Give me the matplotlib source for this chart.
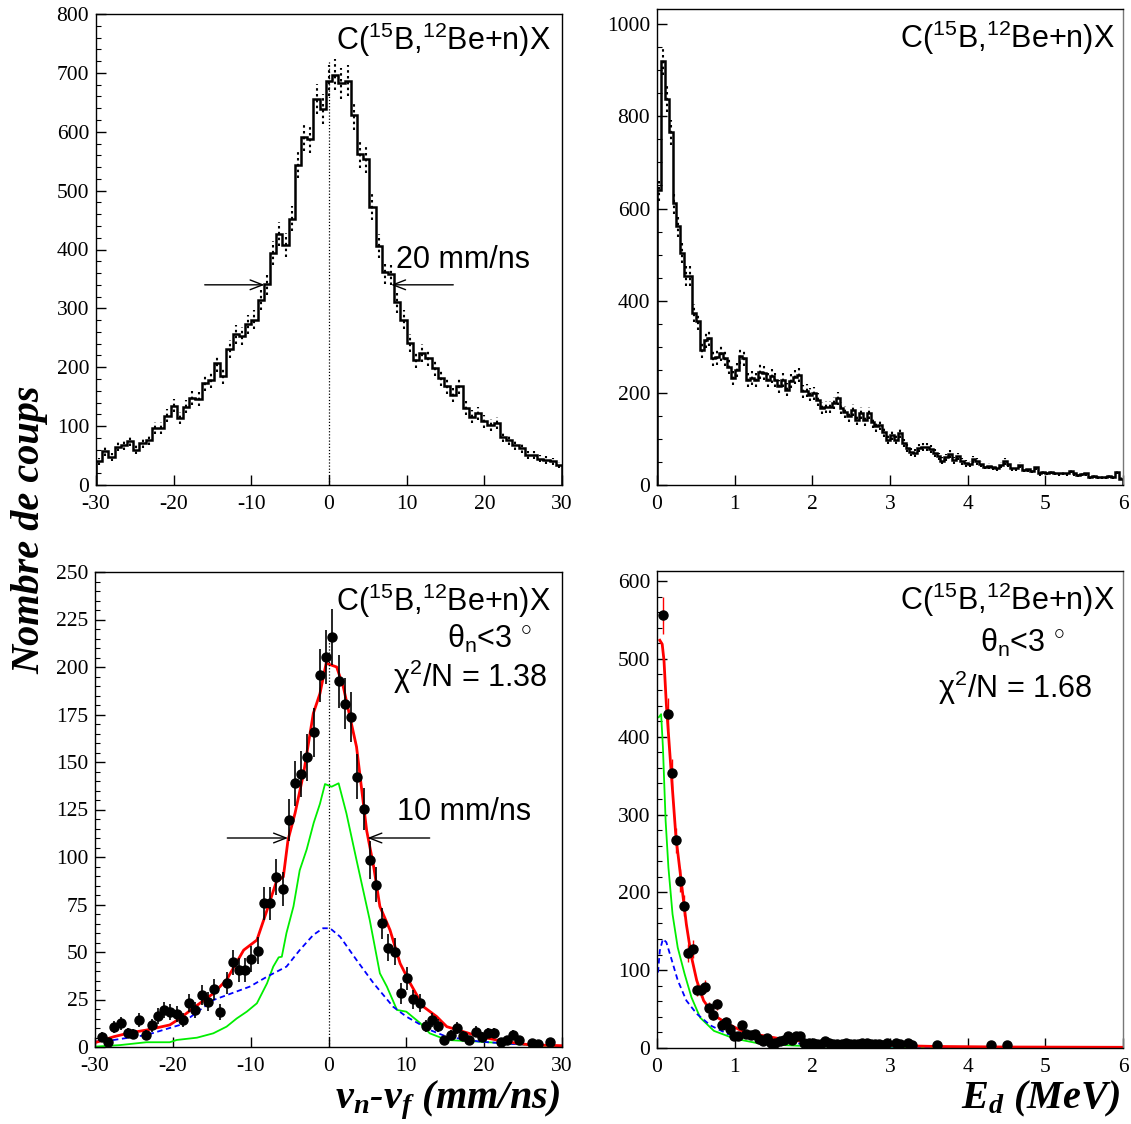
import numpy as np
import matplotlib
matplotlib.use("Agg")
import matplotlib.pyplot as plt
from matplotlib.ticker import MultipleLocator

plt.rcParams.update({
    "font.family": ["Liberation Sans", "DejaVu Sans"],
    "axes.unicode_minus": False,
    "mathtext.fontset": "custom",
    "mathtext.rm": "Liberation Sans",
    "mathtext.it": "Liberation Sans:italic",
    "mathtext.bf": "Liberation Sans:bold",
    "mathtext.bfit": "Liberation Serif:italic:bold",
    "mathtext.default": "rm",
})

# ---------------- data ----------------
# top-left: v_n - v_f histogram (75 bins of 0.8 mm/ns from -30 to 30)
vel_edges_lo, vel_edges_hi, vel_nbins = -30.0, 30.0, 75
vel_counts = [40, 57, 48, 65, 68, 75, 60, 71, 77, 97, 97, 118, 135, 114, 133,
              148, 146, 173, 178, 207, 185, 231, 256, 253, 273, 281, 315, 341,
              394, 426, 408, 452, 544, 591, 588, 655, 639, 687, 697, 682, 687,
              628, 562, 554, 472, 406, 361, 358, 310, 281, 241, 213, 224, 216,
              199, 182, 168, 153, 168, 131, 116, 122, 108, 102, 105, 82, 77, 68,
              62, 51, 51, 45, 43, 40, 34]

# top-right: E_d histogram (120 bins of 0.05 MeV from 0 to 6)
ed_edges_lo, ed_edges_hi, ed_nbins = 0.0, 6.0, 120
ed_counts = [641, 920, 838, 765, 612, 562, 504, 454, 454, 373, 355, 293, 315, 319,
             275, 277, 286, 275, 257, 232, 250, 279, 275, 228, 232, 228, 246, 243,
             228, 237, 228, 214, 228, 207, 225, 235, 239, 203, 205, 196, 199, 185,
             167, 169, 170, 178, 188, 167, 159, 149, 163, 141, 156, 140, 156, 136,
             127, 130, 116, 98, 109, 98, 112, 91, 80, 72, 69, 80, 82, 83, 78, 69,
             62, 53, 60, 67, 54, 62, 51, 47, 46, 56, 51, 46, 40, 41, 38, 36, 43,
             51, 46, 36, 36, 43, 33, 34, 31, 38, 25, 29, 27, 29, 27, 25, 27, 25,
             31, 25, 22, 24, 25, 18, 20, 17, 18, 17, 20, 17, 29, 14]

# bottom-left: data points and fit components
bl_x = [-29.1, -28.3, -27.5, -26.7, -25.8, -25.1, -24.3, -23.5, -22.7, -21.9,
        -21.1, -20.3, -19.5, -18.7, -17.9, -17.1, -16.3, -15.5, -14.7, -13.9,
        -13.1, -12.3, -11.5, -10.7, -9.9, -9.1, -8.3, -7.5, -6.7, -5.9, -5.1,
        -4.3, -3.5, -2.7, -1.9, -1.1, -0.3, 0.5, 1.3, 2.1, 2.9, 3.7, 4.5, 5.3,
        6.1, 6.9, 7.7, 8.5, 9.3, 10.1, 10.9, 11.7, 12.5, 13.3, 14.1, 14.9, 15.7,
        16.5, 17.3, 18.1, 18.9, 19.7, 20.5, 21.3, 22.1, 22.9, 23.7, 24.5, 26.1,
        26.9, 28.5]
bl_y = [5.4, 2.8, 10.4, 12.5, 7.5, 6.8, 14.2, 6.5, 11.4, 16.3, 19.5, 18.4, 17.4,
        14.2, 23.3, 19.5, 27.4, 23.9, 30.4, 18.4, 33.5, 44.6, 40.5, 40.5, 46.5,
        50.7, 75.6, 75.6, 89.6, 83.2, 119.5, 138.8, 143.7, 152.5, 165.6, 195.6,
        205.4, 215.6, 192.5, 180.7, 173.9, 142.3, 125.3, 98.4, 85.3, 65.1, 52.3,
        50.2, 28.2, 36.1, 25.1, 23.0, 11.1, 14.2, 11.2, 3.7, 6.3, 10.2, 5.8, 3.7,
        8.1, 5.4, 7.2, 7.2, 2.8, 3.7, 6.3, 3.7, 2.3, 1.6, 2.5]
bl_red_x = [-30, -27.6, -25.5, -23.4, -20.4, -19.1, -17.4, -14.8, -13.1, -10.9,
            -9.2, -7.9, -6.7, -5.8, -5.2, -4.3, -3.2, -1.95, -1.1, -0.3, 1.05,
            1.9, 3.6, 4.9, 5.8, 6.6, 7.9, 9.2, 10.5, 12.2, 13.9, 15.2, 17.3,
            19.5, 21.6, 23.7, 25.9, 30]
bl_red_y = [2.3, 5.4, 7.5, 8.9, 11.6, 15, 20.4, 28.2, 35.3, 51, 56.3, 72, 87,
            89.6, 109, 123, 144, 175.6, 186, 202, 200, 189.6, 158, 114, 95, 74,
            61.6, 44, 33.5, 21.2, 16, 10.7, 8.1, 5.4, 3.7, 2.3, 1.1, 0.7]
bl_green_x = [-30, -26.8, -23.4, -20.4, -19.5, -16.9, -14.8, -13.1, -11.8, -10.5,
              -9.2, -7.9, -7.1, -6.4, -6.0, -5.4, -4.5, -3.7, -2.8, -1.9, -1.1,
              -0.45, 0.4, 1.3, 2.3, 3.6, 5.3, 6.6, 7.5, 8.8, 10.0, 11.8, 13.0,
              15.2, 19.5, 23.7, 30]
bl_green_y = [0.2, 1, 2.5, 2.5, 3.7, 4.9, 7.2, 10.7, 15, 18.6, 23, 33.5, 42.3,
              47.2, 47.5, 60, 74, 93, 104, 118, 128, 138.4, 137, 138.8, 123,
              98.4, 66.8, 38.8, 31.8, 19.5, 18.6, 12.5, 7.2, 3.7, 2.8, 1.6, 0.2]
bl_blue_x = [-30, -27.6, -23.4, -19.1, -14.8, -10.1, -7.9, -5.4, -3.7, -1.95,
             -0.7, 0.2, 1.5, 3.6, 5.8, 8.3, 10.0, 13.0, 15.2, 19.5, 23.7, 30]
bl_blue_y = [2.8, 3.7, 6.3, 11.6, 24.7, 31.8, 37, 42.3, 51, 59, 62.5, 62.5, 58,
             45.8, 33.5, 21.2, 16, 9, 5.4, 2.8, 1.6, 0.5]

# bottom-right: data points and fit components
br_x = [0.076, 0.138, 0.19, 0.244, 0.298, 0.351, 0.404, 0.458, 0.511, 0.564,
        0.618, 0.671, 0.724, 0.778, 0.831, 0.884, 0.938, 0.991, 1.044, 1.098,
        1.151, 1.204, 1.258, 1.311, 1.364, 1.418, 1.471, 1.524, 1.578, 1.631,
        1.684, 1.738, 1.791, 1.844, 1.898, 1.951, 2.004, 2.058, 2.111, 2.164,
        2.218, 2.271, 2.324, 2.378, 2.431, 2.484, 2.538, 2.591, 2.644, 2.698,
        2.751, 2.804, 2.858, 2.911, 2.964, 3.071, 3.124, 3.231, 3.284, 3.604,
        4.298, 4.511]
br_y = [556, 429, 353, 267, 215, 183, 122, 127, 75, 74, 79, 52, 43, 56, 30, 34,
        24, 15, 15, 29, 18, 17, 18, 12, 9, 13, 7, 7, 9, 10, 16, 10, 15, 16, 7,
        6, 6, 5, 5, 9, 7, 5, 5, 5, 7, 5, 5, 5, 7, 6, 5, 5, 5, 4, 6, 6, 5, 6, 4,
        4, 4, 4]
br_red_x = [0.036, 0.067, 0.09, 0.12, 0.178, 0.244, 0.311, 0.378, 0.444, 0.511,
            0.6, 0.733, 0.911, 1.133, 1.356, 1.578, 2.022, 2.689, 3.578, 4.467, 6.0]
br_red_y = [524, 519, 498, 442, 361, 271, 215, 159, 117, 87, 61, 42, 31, 20, 16,
            12, 7, 4, 2, 1.3, 0.9]
br_green_x = [0.022, 0.053, 0.076, 0.111, 0.147, 0.2, 0.267, 0.356, 0.444, 0.556,
              0.733, 1.0, 1.356, 1.8, 2.69, 6.0]
br_green_y = [425, 429, 387, 292, 232, 172, 129, 95, 65, 39, 22, 12, 5, 3, 1, 0]
br_blue_x = [0.013, 0.036, 0.076, 0.12, 0.178, 0.267, 0.378, 0.511, 0.689, 0.911,
             1.133, 1.356, 1.8, 2.24, 2.91, 3.58, 6.0]
br_blue_y = [97, 125, 140, 136, 117, 87, 61, 44, 29, 18, 15, 10, 6, 4, 2, 1.3, 0.4]

reaction = r'C($^{15}$B,$^{12}$Be+n)X'

# ---------------- figure ----------------
W, H = 1131, 1124
fig = plt.figure(figsize=(W / 100, H / 100), dpi=100)

def px_axes(l, r, t, b):
    return fig.add_axes([l / W, 1 - b / H, (r - l) / W, (b - t) / H])

ax1 = px_axes(96, 562, 14, 485)
ax2 = px_axes(657, 1123, 9, 485)
ax3 = px_axes(95, 562, 572, 1047)
ax4 = px_axes(657, 1123, 571, 1048)

tickfont = dict(family="Liberation Serif", size=15.5)
txt_kw = dict(fontsize=22, family="Liberation Sans")

def style(ax, xmaj, ymaj, ymin):
    ax.xaxis.set_major_locator(MultipleLocator(xmaj))
    ax.yaxis.set_major_locator(MultipleLocator(ymaj))
    ax.yaxis.set_minor_locator(MultipleLocator(ymin))
    ax.tick_params(which="both", direction="in", top=False, right=False)
    ax.tick_params(which="major", length=7, width=1)
    ax.tick_params(axis="x", which="major", pad=7)
    ax.tick_params(axis="y", which="major", pad=5)
    ax.tick_params(which="minor", length=3.5, width=0.8)
    for lab in ax.get_xticklabels() + ax.get_yticklabels():
        lab.set_fontfamily(tickfont["family"])
        lab.set_fontsize(tickfont["size"])
    for s in ax.spines.values():
        s.set_linewidth(1.0)

# ---- top-left ----
edges = np.linspace(vel_edges_lo, vel_edges_hi, vel_nbins + 1)
cent = 0.5 * (edges[:-1] + edges[1:])
vc = np.array(vel_counts, float)
ax1.stairs(vc, edges, color="k", lw=1.8)
ax1.vlines(cent, vc - np.sqrt(vc), vc + np.sqrt(vc), colors="k",
           linestyles=(0, (1.2, 1.6)), lw=1.5)
ax1.plot([0, 0], [0, 720], color="k", ls=(0, (1, 1.5)), lw=0.9)
arr = dict(arrowstyle="->,head_length=0.9,head_width=0.35", lw=1.0, color="k",
           shrinkA=0, shrinkB=0)
ax1.annotate("", xy=(-8.3, 340), xytext=(-16, 340), arrowprops=arr)
ax1.annotate("", xy=(8.0, 340), xytext=(16, 340), arrowprops=arr)
ax1.text(8.6, 368, "20 mm/ns", ha="left", va="baseline", **txt_kw)
ax1.text(0.976, 0.924, reaction, transform=ax1.transAxes, ha="right",
         va="baseline", **txt_kw)
ax1.set_xlim(-30, 30)
ax1.set_ylim(0, 800)
style(ax1, 10, 100, 20)

# ---- top-right ----
edges2 = np.linspace(ed_edges_lo, ed_edges_hi, ed_nbins + 1)
cent2 = 0.5 * (edges2[:-1] + edges2[1:])
ec = np.array(ed_counts, float)
ax2.stairs(ec, edges2, color="k", lw=1.8)
ax2.vlines(cent2, ec - np.sqrt(ec), ec + np.sqrt(ec), colors="k",
           linestyles=(0, (1.2, 1.6)), lw=1.5)
ax2.text(0.983, 0.918, reaction, transform=ax2.transAxes, ha="right",
         va="baseline", **txt_kw)
ax2.set_xlim(0, 6)
ax2.set_ylim(0, 1033)
style(ax2, 1, 200, 50)

# ---- bottom-left ----
by = np.array(bl_y)
ax3.plot(bl_green_x, bl_green_y, color="#00ee00", lw=1.3)
ax3.plot(bl_blue_x, bl_blue_y, color="#0000ff", lw=1.3, ls=(0, (3, 2)))
ax3.plot(bl_red_x, bl_red_y, color="#ff0000", lw=2.0)
ax3.errorbar(bl_x, by, yerr=np.sqrt(by), fmt="o", color="k", ms=6.5,
             elinewidth=1.2, capsize=0)
ax3.plot([0, 0], [0, 218], color="k", ls=(0, (1, 1.5)), lw=0.9)
ax3.annotate("", xy=(-5.2, 110), xytext=(-13, 110), arrowprops=arr)
ax3.annotate("", xy=(5.0, 110), xytext=(13, 110), arrowprops=arr)
ax3.text(8.8, 119.5, "10 mm/ns", ha="left", va="baseline", **txt_kw)
ax3.text(0.976, 0.918, reaction, transform=ax3.transAxes, ha="right",
         va="baseline", **txt_kw)
ax3.text(15.2, 210, r"θ$_{n}$<3 $^{\circ}$", ha="left", va="baseline", **txt_kw)
ax3.text(28.1, 189.5, r"χ$^{2}$/N = 1.38", ha="right", va="baseline", **txt_kw)
ax3.set_xlim(-30, 30)
ax3.set_ylim(0, 250)
style(ax3, 10, 25, 5)

# ---- bottom-right ----
ry = np.array(br_y, float)
ax4.plot(br_green_x, br_green_y, color="#00ee00", lw=1.3)
ax4.plot(br_blue_x, br_blue_y, color="#0000ff", lw=1.3, ls=(0, (3, 2)))
ax4.errorbar(br_x, ry, yerr=np.sqrt(ry), fmt="none", ecolor="#ff0000",
             elinewidth=1.0, capsize=0)
ax4.plot(br_red_x, br_red_y, color="#ff0000", lw=2.0)
ax4.plot(br_x, ry, "o", color="k", ms=6.5)
ax4.text(0.983, 0.918, reaction, transform=ax4.transAxes, ha="right",
         va="baseline", **txt_kw)
ax4.text(4.16, 509, r"θ$_{n}$<3 $^{\circ}$", ha="left", va="baseline", **txt_kw)
ax4.text(5.6, 450, r"χ$^{2}$/N = 1.68", ha="right", va="baseline", **txt_kw)
ax4.set_xlim(0, 6)
ax4.set_ylim(0, 613)
style(ax4, 1, 100, 20)
for ax in (ax2, ax4):
    ax.spines["right"].set_color("#777777")

# nudge the bottom "0" y-labels up slightly so they don't touch the x labels
for ax in (ax1, ax2, ax3, ax4):
    ax.figure.canvas.draw_idle()
    labs = ax.get_yticklabels()
    if labs:
        labs[0].set_verticalalignment("bottom")

# ---- axis titles ----
lab_kw = dict(family="Liberation Serif", weight="bold", style="italic", fontsize=29)
fig.text(30 / W, 1 - 530 / H, "Nombre de coups", rotation=90, ha="center",
         va="center", **lab_kw)
fig.text(560 / W, 1 - 1108 / H, r"$\mathbfit{v_{n}}$-$\mathbfit{v_{f}}$ (mm/ns)",
         ha="right", va="baseline", **lab_kw)
fig.text(1120 / W, 1 - 1108 / H, r"$\mathbfit{E_{d}}$ (MeV)",
         ha="right", va="baseline", **lab_kw)

fig.savefig("out.png", dpi=100)
